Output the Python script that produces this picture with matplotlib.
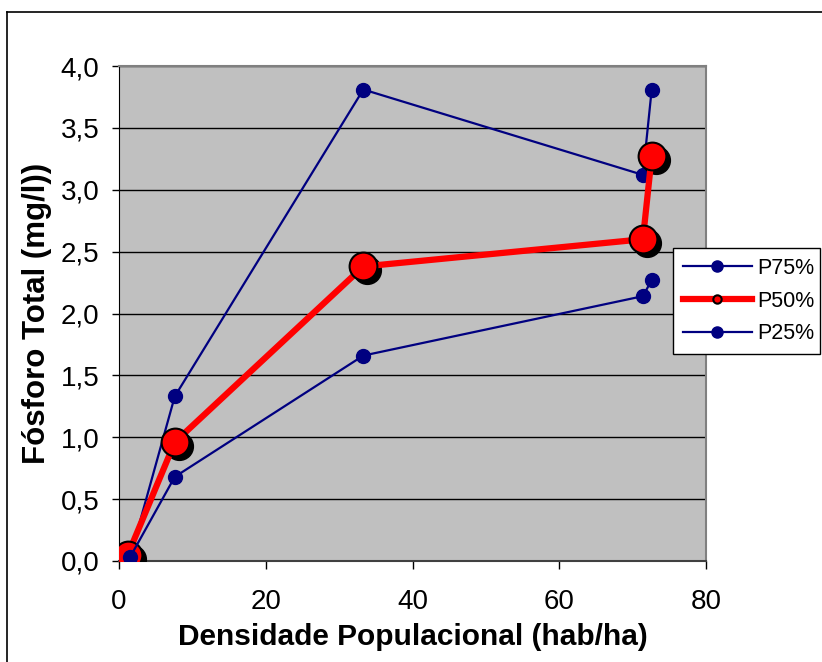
import matplotlib
matplotlib.use("Agg")
import matplotlib.pyplot as plt
import matplotlib.transforms as mtransforms
from matplotlib.lines import Line2D
from matplotlib.ticker import FuncFormatter

# --- DATA ---
p75_x = [1.5, 7.6, 33.3, 71.4, 72.6]
p75_y = [0.03, 1.33, 3.81, 3.12, 3.81]
p50_x = [1.2, 7.6, 33.3, 71.4, 72.6]
p50_y = [0.05, 0.96, 2.38, 2.60, 3.27]
p25_x = [1.5, 7.6, 33.3, 71.4, 72.6]
p25_y = [0.03, 0.68, 1.66, 2.14, 2.27]
labels = ["P75%", "P50%", "P25%"]

NAVY = "#000080"
RED = "#FF0000"

plt.rcParams['font.family'] = ['Liberation Sans', 'DejaVu Sans']

W, H = 822, 662
fig = plt.figure(figsize=(W / 100, H / 100), dpi=100)
ax = fig.add_axes([119 / W, 1 - 561 / H, (706 - 119) / W, (561 - 66) / H])
ax.set_facecolor("#C0C0C0")

# chart area border (top and left visible, rest cropped)
fig.add_artist(Line2D([7 / W, 7 / W], [0, 1 - 12 / H], color="black", lw=1.2))
fig.add_artist(Line2D([7 / W, 1], [1 - 12 / H, 1 - 12 / H], color="black", lw=1.2))

# series
ax.plot(p75_x, p75_y, color=NAVY, lw=1.6, marker='o', ms=10, zorder=3)

shadow = mtransforms.offset_copy(ax.transData, fig=fig, x=4, y=-4, units='dots')
ax.plot(p50_x, p50_y, ls='none', marker='o', ms=20, color='black', transform=shadow, zorder=4)
ax.plot(p50_x, p50_y, color=RED, lw=4.5, marker='o', ms=20, mfc=RED, mec='black', mew=1.5, zorder=5)

ax.plot(p25_x, p25_y, color=NAVY, lw=1.6, marker='o', ms=10, zorder=6)

ax.set_xlim(0, 80)
ax.set_ylim(0, 4.0)
ax.set_xticks([0, 20, 40, 60, 80])
ax.set_yticks([i * 0.5 for i in range(9)])
ax.yaxis.set_major_formatter(FuncFormatter(lambda v, p: f"{v:.1f}".replace('.', ',')))
ax.yaxis.grid(True, color='black', lw=1)
ax.set_axisbelow(True)

for side in ['top', 'right']:
    ax.spines[side].set_color('#808080')
    ax.spines[side].set_linewidth(1.5)
ax.spines['left'].set_color('black')
ax.spines['bottom'].set_color('#404040')
ax.spines['bottom'].set_linewidth(1.5)

ax.tick_params(axis='y', direction='out', length=5, width=1, labelsize=20, pad=9)
ax.tick_params(axis='x', direction='out', length=6, width=1, labelsize=20, pad=14)

ax.set_xlabel("Densidade Populacional (hab/ha)", fontsize=21.5, fontweight='bold', labelpad=6)
ax.set_ylabel("Fósforo Total (mg/l))", fontsize=22.5, fontweight='bold', labelpad=6)

# legend
handles = [
    Line2D([], [], color=NAVY, lw=1.6, marker='o', ms=8),
    Line2D([], [], color=RED, lw=4.5, marker='o', ms=6, mfc=RED, mec='black', mew=1.5),
    Line2D([], [], color=NAVY, lw=1.6, marker='o', ms=8),
]
leg = fig.legend(handles, labels, loc='center', mode='expand',
                 bbox_to_anchor=(673 / W, 1 - 352 / H, (820 - 673) / W, 102 / H),
                 fontsize=15.5, frameon=True, fancybox=False, framealpha=1,
                 edgecolor='black', handlelength=3.2, labelspacing=0.55,
                 borderpad=0.45, handletextpad=0.25, borderaxespad=0)
leg.get_frame().set_linewidth(1)

fig.savefig("out.png", dpi=100)
